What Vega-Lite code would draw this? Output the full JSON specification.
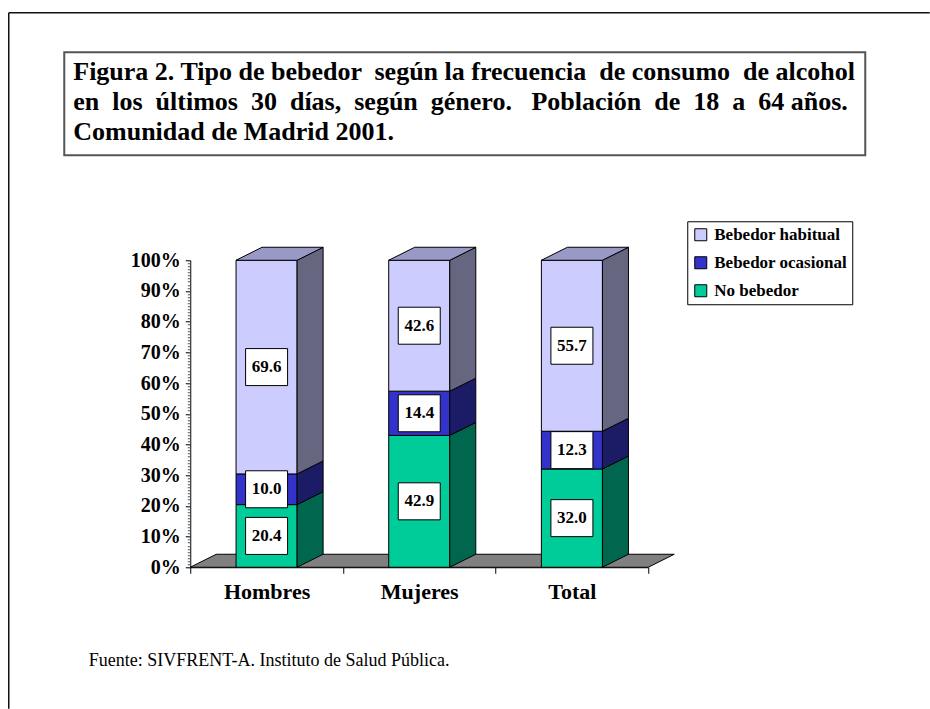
{
  "$schema": "https://vega.github.io/schema/vega-lite/v6.json",
  "padding": {"left": 7.25, "top": 11.25, "right": 0, "bottom": 0},
  "autosize": {"type": "pad"},
  "background": "white",
  "spacing": 105,
  "bounds": "flush",
  "resolve": {"scale": {"x": "independent", "y": "independent"}},
  "config": {"view": {"stroke": null}, "font": "Liberation Serif"},
  "datasets": {
    "bebedores": [
      {"sexo": "Hombres", "tipo": "No bebedor", "porcentaje": 20.4},
      {"sexo": "Hombres", "tipo": "Bebedor ocasional", "porcentaje": 10.0},
      {"sexo": "Hombres", "tipo": "Bebedor habitual", "porcentaje": 69.6},
      {"sexo": "Mujeres", "tipo": "No bebedor", "porcentaje": 42.9},
      {"sexo": "Mujeres", "tipo": "Bebedor ocasional", "porcentaje": 14.4},
      {"sexo": "Mujeres", "tipo": "Bebedor habitual", "porcentaje": 42.6},
      {"sexo": "Total", "tipo": "No bebedor", "porcentaje": 32.0},
      {"sexo": "Total", "tipo": "Bebedor ocasional", "porcentaje": 12.3},
      {"sexo": "Total", "tipo": "Bebedor habitual", "porcentaje": 55.7}
    ],
    "titulo": [
      {"linea": 1, "texto": "Figura 2. Tipo de bebedor \u00a0según la frecuencia \u00a0de consumo \u00a0de alcohol"},
      {"linea": 2, "texto": "en \u00a0los \u00a0últimos \u00a030 \u00a0días, \u00a0según \u00a0género. \u00a0\u00a0Población \u00a0de \u00a018 \u00a0a \u00a064 años."},
      {"linea": 3, "texto": "Comunidad de Madrid 2001."}
    ]
  },
  "vconcat": [
    {
      "width": 801,
      "height": 103,
      "view": {"stroke": "#555555", "strokeWidth": 2},
      "data": {"name": "titulo"},
      "mark": {"type": "text", "align": "left", "baseline": "alphabetic", "font": "Liberation Serif", "fontSize": 26, "fontWeight": "bold", "color": "black", "dx": 9},
      "encoding": {
        "x": {
          "datum": 0, "type": "quantitative",
          "scale": {"domain": [-56, 865], "range": [-56, 865], "nice": false, "zero": false},
          "axis": {"orient": "top", "offset": 40, "ticks": false, "labels": false, "grid": false, "title": null, "domainColor": "#111111", "domainWidth": 1.5}
        },
        "y": {
          "field": "linea", "type": "quantitative",
          "scale": {"domain": [-1.266667, 21.933333], "range": [-40, 656], "nice": false, "zero": false},
          "axis": {"orient": "left", "offset": 56, "ticks": false, "labels": false, "grid": false, "title": null, "domainColor": "#111111", "domainWidth": 1.5}
        },
        "text": {"field": "texto"}
      }
    },
    {
      "width": 800,
      "height": 307,
      "data": {"name": "bebedores"},
      "transform": [
        {"calculate": "indexof(['Hombres','Mujeres','Total'], datum.sexo) + 0.5", "as": "pos"},
        {"calculate": "indexof(['No bebedor','Bebedor ocasional','Bebedor habitual'], datum.tipo)", "as": "orden"},
        {"stack": "porcentaje", "groupby": ["sexo"], "sort": [{"field": "orden", "order": "ascending"}], "offset": "normalize", "as": ["y0", "y1"]},
        {"calculate": "datum.pos - 0.2", "as": "xl"},
        {"calculate": "datum.pos + 0.2", "as": "xr"},
        {"calculate": "(datum.y0 + datum.y1) / 2", "as": "ym"}
      ],
      "resolve": {"axis": {"x": "independent", "y": "independent"}},
      "layer": [
        {
          "transform": [
            {"aggregate": [{"op": "min", "field": "pos", "as": "pmin"}, {"op": "max", "field": "pos", "as": "pmax"}]},
            {"calculate": "[0, 1]", "as": "cara"},
            {"flatten": ["cara"]},
            {"calculate": "datum.pmin - 0.5 + datum.cara * 0.1703", "as": "fx1"},
            {"calculate": "datum.pmax + 0.5 + datum.cara * 0.1703", "as": "fx2"},
            {"calculate": "datum.cara * 0.0423", "as": "fy"}
          ],
          "mark": {"type": "area", "orient": "horizontal", "fill": "#808080", "stroke": "black", "strokeWidth": 1, "opacity": 1, "fillOpacity": 1},
          "encoding": {
            "y": {"field": "fy", "type": "quantitative", "stack": null, "scale": {"domain": [0, 1]}, "axis": null},
            "x": {"field": "fx1", "type": "quantitative", "scale": {"domain": [0, 3], "range": [126, 584], "nice": false, "zero": false}, "axis": null},
            "x2": {"field": "fx2"}
          }
        },
        {
          "mark": {"type": "rect", "stroke": "black", "strokeWidth": 1, "opacity": 1},
          "encoding": {
            "x": {
              "field": "xl", "type": "quantitative",
              "scale": {"domain": [0, 3], "range": [126, 584], "nice": false, "zero": false},
              "axis": {
                "orient": "bottom", "values": [0, 1, 2, 3], "labels": false,
                "tickSize": 6, "tickColor": "black", "domainColor": "black", "grid": false, "title": null
              }
            },
            "x2": {"field": "xr"},
            "y": {
              "field": "y1", "type": "quantitative", "stack": null,
              "scale": {"domain": [0, 1]},
              "axis": {
                "orient": "left", "offset": -126,
                "values": [0, 0.1, 0.2, 0.3, 0.4, 0.5, 0.6, 0.7, 0.8, 0.9, 1],
                "format": ".0%",
                "labelFont": "Liberation Serif", "labelFontSize": 20, "labelFontWeight": "bold", "labelColor": "black",
                "labelPadding": 5, "tickSize": 5, "tickColor": "black", "domainColor": "black",
                "grid": false, "title": null, "labelFlush": false, "labelOverlap": false, "labelBaseline": "middle"
              }
            },
            "y2": {"field": "y0"},
            "color": {
              "field": "tipo", "type": "nominal",
              "scale": {"domain": ["Bebedor habitual", "Bebedor ocasional", "No bebedor"], "range": ["#CCCCFF", "#3333CC", "#00CC99"]},
              "legend": {
                "orient": "none", "legendX": 623, "legendY": 169, "title": null,
                "symbolType": "square", "symbolSize": 144, "symbolStrokeColor": "black", "symbolStrokeWidth": 1,
                "labelFont": "Liberation Serif", "labelFontSize": 17, "labelFontWeight": "bold", "labelColor": "black",
                "labelOffset": 5, "strokeColor": "black", "fillColor": "white", "padding": 5, "rowPadding": 10
              }
            }
          }
        },
        {
          "transform": [
            {"calculate": "[0, 1]", "as": "cara"},
            {"flatten": ["cara"]},
            {"calculate": "datum.xr + datum.cara * 0.1703", "as": "sx"},
            {"calculate": "datum.y0 + datum.cara * 0.0423", "as": "sy0"},
            {"calculate": "datum.y1 + datum.cara * 0.0423", "as": "sy1"}
          ],
          "mark": {"type": "area", "orient": "vertical", "stroke": "black", "strokeWidth": 1, "opacity": 1, "fillOpacity": 1},
          "encoding": {
            "x": {"field": "sx", "type": "quantitative", "scale": {"domain": [0, 3], "range": [126, 584], "nice": false, "zero": false}, "axis": null},
            "y": {"field": "sy1", "type": "quantitative", "stack": null, "scale": {"domain": [0, 1]}, "axis": null},
            "y2": {"field": "sy0"},
            "fill": {
              "field": "tipo", "type": "nominal",
              "scale": {"domain": ["Bebedor habitual", "Bebedor ocasional", "No bebedor"], "range": ["#666680", "#1C1C66", "#00664D"]},
              "legend": null
            },
            "detail": {"field": "sexo"}
          }
        },
        {
          "transform": [
            {"filter": "datum.tipo === 'Bebedor habitual'"},
            {"calculate": "[0, 1]", "as": "cara"},
            {"flatten": ["cara"]},
            {"calculate": "datum.xl + datum.cara * 0.1703", "as": "tx1"},
            {"calculate": "datum.xr + datum.cara * 0.1703", "as": "tx2"},
            {"calculate": "datum.y1 + datum.cara * 0.0423", "as": "ty"}
          ],
          "mark": {"type": "area", "orient": "horizontal", "fill": "#9999C8", "stroke": "black", "strokeWidth": 1, "opacity": 1, "fillOpacity": 1},
          "encoding": {
            "y": {"field": "ty", "type": "quantitative", "stack": null, "scale": {"domain": [0, 1]}, "axis": null},
            "x": {"field": "tx1", "type": "quantitative", "scale": {"domain": [0, 3], "range": [126, 584], "nice": false, "zero": false}, "axis": null},
            "x2": {"field": "tx2"},
            "detail": {"field": "sexo"}
          }
        },
        {
          "mark": {"type": "point", "shape": "M-1.135,-1L1.135,-1L1.135,1L-1.135,1Z", "size": 1369, "filled": true, "fill": "white", "stroke": "black", "strokeWidth": 1, "opacity": 1},
          "encoding": {
            "x": {"field": "pos", "type": "quantitative", "scale": {"domain": [0, 3], "range": [126, 584], "nice": false, "zero": false}, "axis": null},
            "y": {
              "field": "ym", "type": "quantitative", "scale": {"domain": [0, 1]},
              "axis": {
                "orient": "left", "offset": -126,
                "values": [0,0.01,0.02,0.03,0.04,0.05,0.06,0.07,0.08,0.09,0.1,0.11,0.12,0.13,0.14,0.15,0.16,0.17,0.18,0.19,0.2,0.21,0.22,0.23,0.24,0.25,0.26,0.27,0.28,0.29,0.3,0.31,0.32,0.33,0.34,0.35,0.36,0.37,0.38,0.39,0.4,0.41,0.42,0.43,0.44,0.45,0.46,0.47,0.48,0.49,0.5,0.51,0.52,0.53,0.54,0.55,0.56,0.57,0.58,0.59,0.6,0.61,0.62,0.63,0.64,0.65,0.66,0.67,0.68,0.69,0.7,0.71,0.72,0.73,0.74,0.75,0.76,0.77,0.78,0.79,0.8,0.81,0.82,0.83,0.84,0.85,0.86,0.87,0.88,0.89,0.9,0.91,0.92,0.93,0.94,0.95,0.96,0.97,0.98,0.99,1],
                "labels": false, "domain": false, "grid": false, "title": null,
                "tickSize": 3, "tickColor": "#555555"
              }
            }
          }
        },
        {
          "mark": {"type": "text", "font": "Liberation Serif", "fontSize": 17, "fontWeight": "bold", "color": "black", "align": "center", "baseline": "middle"},
          "encoding": {
            "x": {
              "field": "pos", "type": "quantitative",
              "scale": {"domain": [0, 3], "range": [126, 584], "nice": false, "zero": false},
              "axis": {
                "orient": "bottom", "values": [0.5, 1.5, 2.5],
                "labelExpr": "datum.value < 1 ? 'Hombres' : datum.value < 2 ? 'Mujeres' : 'Total'",
                "ticks": false, "tickSize": 0, "domain": false, "grid": false,
                "labelFont": "Liberation Serif", "labelFontSize": 22, "labelFontWeight": "bold", "labelColor": "black",
                "labelPadding": 14, "labelOverlap": false, "labelFlush": false, "labelBound": false, "labelBaseline": "top",
                "title": "Fuente: SIVFRENT-A. Instituto de Salud Pública.",
                "titleFont": "Liberation Serif", "titleFontSize": 18, "titleFontWeight": "normal", "titleColor": "black",
                "titleAnchor": "start", "titleAlign": "left", "titleBaseline": "alphabetic", "titleX": 24, "titleY": 98
              }
            },
            "y": {"field": "ym", "type": "quantitative", "scale": {"domain": [0, 1]}, "axis": null},
            "text": {"field": "porcentaje", "type": "quantitative", "format": ".1f"}
          }
        }
      ]
    }
  ]
}
